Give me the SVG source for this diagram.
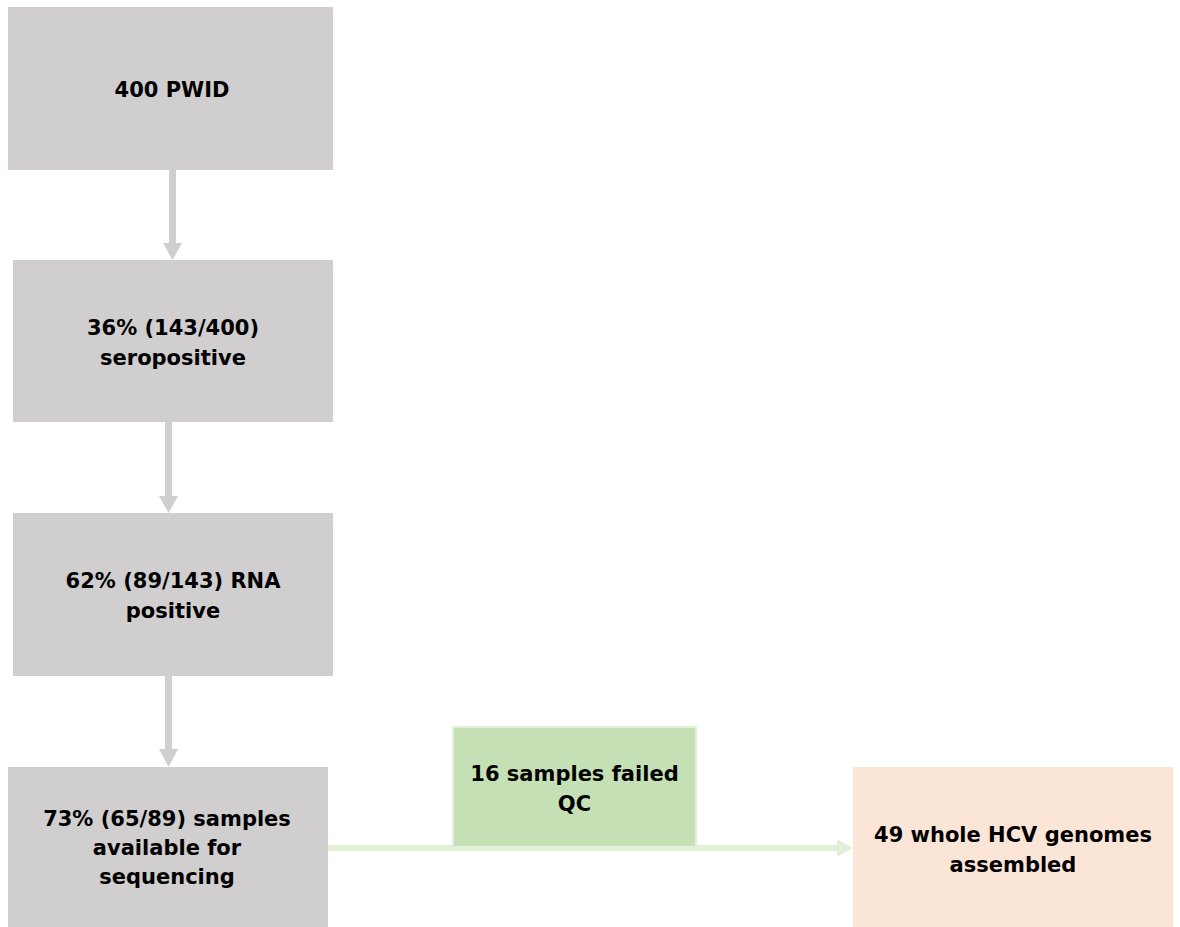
<svg xmlns="http://www.w3.org/2000/svg" width="1180" height="927" viewBox="0 0 1180 927">
  <defs>
    <style>
      .grey { fill: #D0CECE; }
      .qc { fill: #C5E0B4; stroke: #E2F0D9; stroke-width: 2; }
      .out { fill: #FBE5D6; }
      .label { font-family: "DejaVu Sans", "Liberation Sans", sans-serif; font-weight: bold; font-size: 21px; fill: #000; text-anchor: middle; }
      .down { stroke: #D0CECE; stroke-width: 7; fill: none; }
      .side { stroke: #E2F0D9; stroke-width: 6; fill: none; }
    </style>
  </defs>
  <rect width="1180" height="927" fill="#FFFFFF"/>

  <!-- connectors -->
  <g id="connectors">
    <line class="down" x1="172.5" y1="169" x2="172.5" y2="244"/>
    <polygon points="163,243 182,243 172.5,260" fill="#D0CECE"/>
    <line class="down" x1="168.5" y1="422" x2="168.5" y2="497"/>
    <polygon points="159,496 178,496 168.5,513" fill="#D0CECE"/>
    <line class="down" x1="168.5" y1="676" x2="168.5" y2="750"/>
    <polygon points="159,749 178,749 168.5,767" fill="#D0CECE"/>
    <line class="side" x1="328" y1="848" x2="838" y2="848"/>
    <polygon points="837,839.5 837,856.5 853,848" fill="#E2F0D9"/>
  </g>

  <g id="node-pwid">
    <rect class="grey" x="8" y="7" width="325" height="163"/>
    <text class="label" x="172" y="97">400 PWID</text>
  </g>

  <g id="node-seropositive">
    <rect class="grey" x="13" y="260" width="320" height="162"/>
    <text class="label" x="173" y="335">36% (143/400)</text>
    <text class="label" x="173" y="365">seropositive</text>
  </g>

  <g id="node-rna">
    <rect class="grey" x="13" y="513" width="320" height="163"/>
    <text class="label" x="173" y="588">62% (89/143) RNA</text>
    <text class="label" x="173" y="618">positive</text>
  </g>

  <g id="node-available">
    <rect class="grey" x="8" y="767" width="320" height="160"/>
    <text class="label" x="167" y="826">73% (65/89) samples</text>
    <text class="label" x="167" y="855">available for</text>
    <text class="label" x="167" y="884">sequencing</text>
  </g>

  <g id="node-failed">
    <rect class="qc" x="453" y="727" width="243" height="120"/>
    <text class="label" x="574.5" y="781">16 samples failed</text>
    <text class="label" x="574.5" y="811">QC</text>
  </g>

  <g id="node-assembled">
    <rect class="out" x="853" y="767" width="320" height="160"/>
    <text class="label" x="1013" y="842">49 whole HCV genomes</text>
    <text class="label" x="1013" y="872">assembled</text>
  </g>
</svg>
